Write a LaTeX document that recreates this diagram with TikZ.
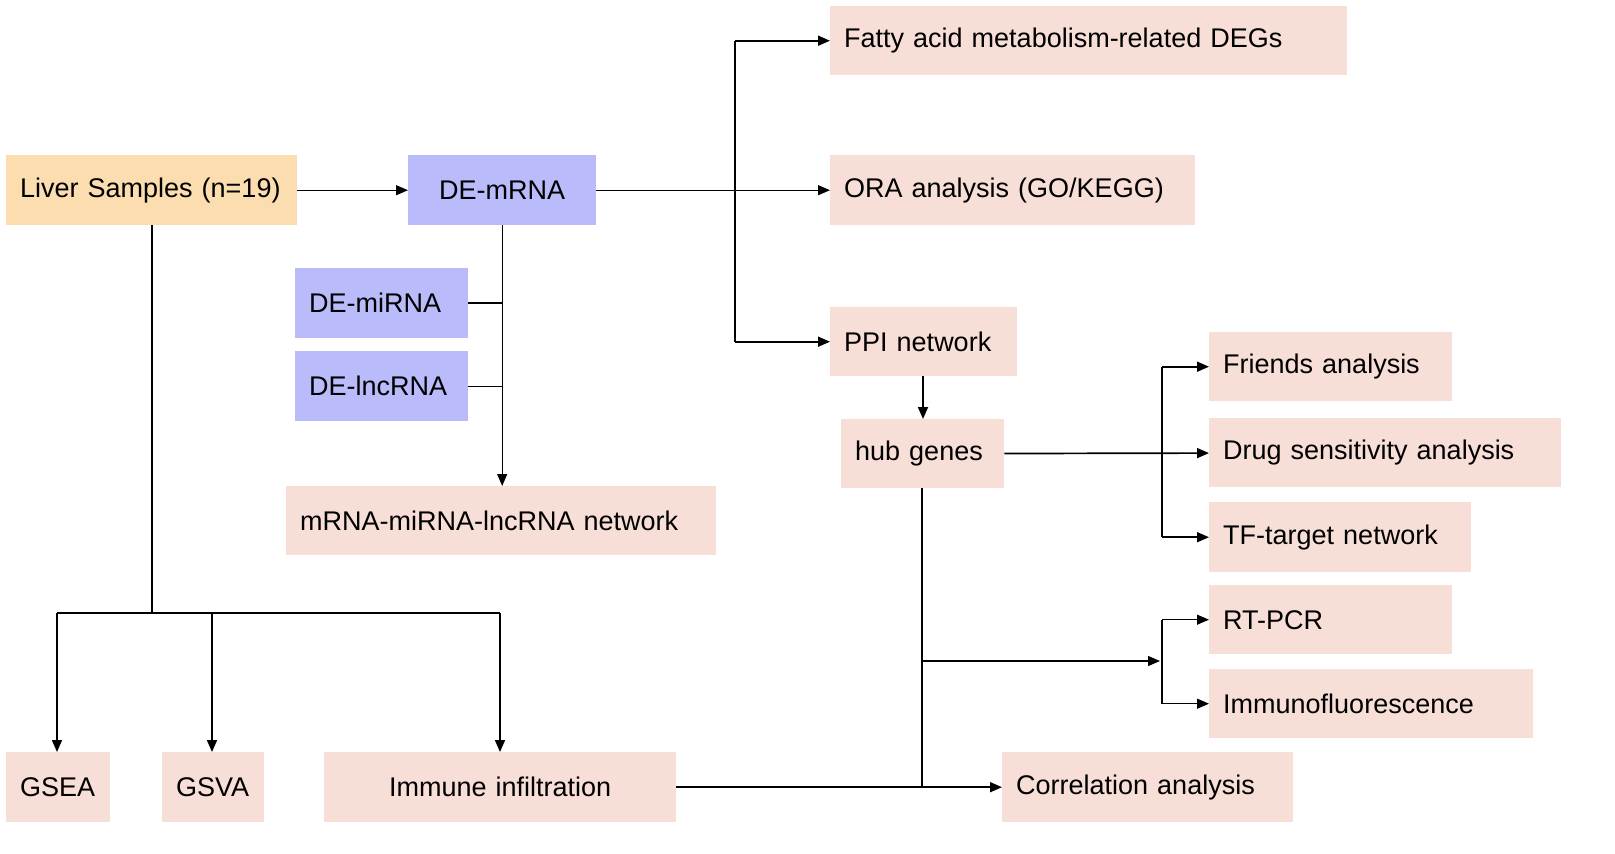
\documentclass[tikz,border=0pt]{standalone}
\usepackage{fontspec}
\setmainfont{Liberation Sans}
\usetikzlibrary{arrows.meta}
\definecolor{pinkbox}{HTML}{F7DED6}
\definecolor{bluebox}{HTML}{B9BBFB}
\definecolor{orangebox}{HTML}{FBDDB0}
\begin{document}
\begin{tikzpicture}[x=1pt,y=-1pt,
	box/.style={anchor=north west, inner xsep=14pt, inner ysep=0pt, align=left, font=\fontsize{27}{31}\selectfont, fill=pinkbox},
	flow/.style={-{Triangle[length=12pt,width=10pt]}, line width=1.7pt},
	thin flow/.style={-{Triangle[length=12pt,width=10pt]}, line width=1.1pt},
	link/.style={line width=1.7pt}]

\useasboundingbox (0,0) rectangle (1615,854);

% boxes: \node at top-left corner, size given by text width and height
\node[box, fill=orangebox, text width=263pt, minimum height=70pt] (liver) at (6,155) {Liver Samples (n=19)};
\node[box, fill=bluebox, text width=160pt, minimum height=70pt, align=center] (mrna) at (408,155) {DE-mRNA};
\node[box, fill=bluebox, text width=145pt, minimum height=70pt] (mirna) at (295,268) {DE-miRNA};
\node[box, fill=bluebox, text width=145pt, minimum height=70pt] (lncrna) at (295,351) {DE-lncRNA};
\node[box, text width=402pt, minimum height=69pt] (net) at (286,486) {mRNA-miRNA-lncRNA network};
\node[box, text width=489pt, minimum height=69pt] (fatty) at (830,6) {Fatty acid metabolism-related DEGs};
\node[box, text width=337pt, minimum height=70pt] (ora) at (830,155) {ORA analysis (GO/KEGG)};
\node[box, text width=159pt, minimum height=69pt] (ppi) at (830,307) {PPI network};
\node[box, text width=135pt, minimum height=69pt] (hub) at (841,419) {hub genes};
\node[box, text width=215pt, minimum height=69pt] (friends) at (1209,332) {Friends analysis};
\node[box, text width=324pt, minimum height=69pt] (drug) at (1209,418) {Drug sensitivity analysis};
\node[box, text width=234pt, minimum height=70pt] (tf) at (1209,502) {TF-target network};
\node[box, text width=215pt, minimum height=69pt] (rtpcr) at (1209,585) {RT-PCR};
\node[box, text width=296pt, minimum height=69pt] (immuno) at (1209,669) {Immunofluorescence};
\node[box, text width=76pt, minimum height=70pt] (gsea) at (6,752) {GSEA};
\node[box, text width=74pt, minimum height=70pt] (gsva) at (162,752) {GSVA};
\node[box, text width=324pt, minimum height=70pt, align=center] (immune) at (324,752) {Immune infiltration};
\node[box, text width=263pt, minimum height=70pt] (corr) at (1002,752) {Correlation analysis};

% branch points
\coordinate (mbranch) at (735,190);
\coordinate (hbranch) at (1162,453);
\coordinate (cbranch) at (922,787);
\coordinate (rbranch) at (1162,661);
\coordinate (lbranch) at (152,613);

% top part
\draw[thin flow] (liver) -- (mrna);
\draw[thin flow] (mrna) -- (ora);
\draw[link] (mbranch |- fatty) -- (mbranch |- ppi);
\draw[flow] (mbranch |- fatty) -- (fatty);
\draw[flow] (mbranch |- ppi) -- (ppi);
\draw[thin flow] (mrna.south) -- (net.north -| mrna.south);
\draw[link] (mirna) -- (mirna -| mrna.south);
\draw[thin flow, -] (lncrna) -- (lncrna -| mrna.south);
\draw[flow] (ppi.south -| 923,0) -- (hub.north -| 923,0);

% hub genes
\draw[flow] (hub) -- (drug);
\draw[link] (hbranch |- friends) -- (hbranch |- tf);
\draw[flow] (hbranch |- friends) -- (friends);
\draw[flow] (hbranch |- tf) -- (tf);
\draw[link] (hub.south -| cbranch) -- (cbranch);
\draw[thin flow] (cbranch |- rbranch) -- ([xshift=-2pt]rbranch);
\draw[link] (rbranch |- rtpcr) -- (rbranch |- immuno);
\draw[thin flow] (rbranch |- rtpcr) -- (rtpcr);
\draw[thin flow] (rbranch |- immuno) -- (immuno);
\draw[flow] (immune) -- (corr);

% liver samples
\draw[link] (liver.south -| lbranch) -- (lbranch);
\draw[link] (57,613) -- (500,613);
\draw[flow] (57,613) -- (gsea.north -| 57,0);
\draw[flow] (212,613) -- (gsva.north -| 212,0);
\draw[flow] (500,613) -- (immune.north -| 500,0);
\end{tikzpicture}
\end{document}
